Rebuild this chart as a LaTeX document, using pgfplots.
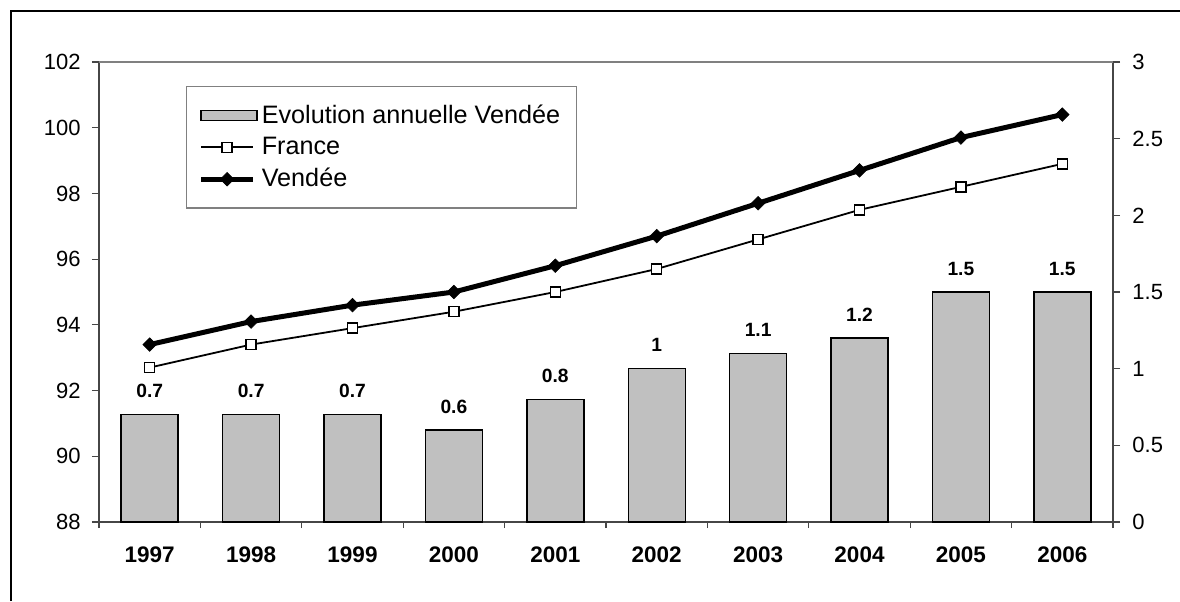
\documentclass[border=0pt]{standalone}
\usepackage{pgfplots}
\pgfplotsset{compat=1.18}
\usepackage{fontspec}
\setmainfont{Liberation Sans}
\definecolor{barfill}{RGB}{192,192,192}
\definecolor{axgray}{RGB}{70,70,70}

\pgfplotstableread{
x bar
0 0.7
1 0.7
2 0.7
3 0.6
4 0.8
5 1.0
6 1.1
7 1.2
8 1.5
9 1.5
}\bars

\pgfplotstableread{
x france vendee
0 92.7 93.4
1 93.4 94.1
2 93.9 94.6
3 94.4 95.0
4 95.0 95.8
5 95.7 96.7
6 96.6 97.7
7 97.5 98.7
8 98.2 99.7
9 98.9 100.4
}\lines

\pgfplotsset{
  base/.style={
    width=507pt, height=230pt, scale only axis,
    xmin=-0.5, xmax=9.5,
    at={(0pt,0pt)}, anchor=south west,
    tick align=outside,
    major tick length=3.5pt,
    minor tick length=3pt,
    tick style={axgray, line width=0.6pt},
    axis line style={axgray, line width=0.7pt},
    /pgf/number format/assume math mode=true,
    ticklabel style={font=\fontsize{11}{13}\selectfont},
  },
  linelegend/.style={legend image code/.code={\draw[mark repeat=2,mark phase=2,##1] plot coordinates {(0pt,0pt) (13pt,0pt) (26pt,0pt)};}},
  barlegend/.style={legend image code/.code={\draw[##1] (0pt,-2.5pt) rectangle (28pt,2.5pt);}},
}

\begin{document}
\begin{tikzpicture}[x=1pt,y=1pt]
\useasboundingbox (-49.5,-39.5) rectangle (540.5,261);
\draw[line width=0.65pt] (-44,-39.5) -- (-44,255.5) -- (540.5,255.5);

% bars, right axis
\begin{axis}[base,
  axis x line*=bottom, axis y line*=right,
  ymin=0, ymax=3, ytick={0,0.5,1,1.5,2,2.5,3},
  xtick={0,...,9},
  xticklabels={1997,1998,1999,2000,2001,2002,2003,2004,2005,2006},
  major x tick style={draw=none},
  minor xtick={-0.5,0.5,...,9.5},
  xticklabel style={font=\bfseries\fontsize{11.25}{13}\selectfont, inner sep=0pt, yshift=-8.5pt},
  yticklabel style={inner sep=0pt, xshift=6pt},
  ybar, bar width=28.5pt,
  nodes near coords,
  nodes near coords style={font=\bfseries\fontsize{9.6}{11}\selectfont, anchor=south, inner sep=0pt, yshift=8pt, text=black},
]
\addplot[fill=barfill, draw=black, line width=0.7pt] table[x=x,y=bar] {\bars};
\end{axis}

% lines, left axis
\begin{axis}[base,
  axis y line*=left, axis x line=none,
  ymin=88, ymax=102, ytick={88,90,...,102},
  yticklabel style={inner sep=0pt, xshift=-5.5pt},
  legend style={at={(0.0858,0.948)}, anchor=north west, draw=gray, line width=0.6pt,
    font=\fontsize{12.6}{15}\selectfont, inner xsep=6pt, inner ysep=7pt, row sep=1.5pt,
    cells={anchor=west}},
  legend cell align=left,
]
\addlegendimage{barlegend, fill=barfill, draw=black, line width=0.7pt}
\addlegendentry{Evolution annuelle Vendée}
\addplot[linelegend, black, line width=0.9pt, mark=square*, mark size=2.5pt,
  mark options={fill=white, line width=0.7pt}]
  table[x=x,y=france] {\lines};
\addlegendentry{France}
\addplot[linelegend, black, line width=2.5pt, mark=square*, mark size=2.4pt,
  mark options={rotate=45, line width=0.3pt}]
  table[x=x,y=vendee] {\lines};
\addlegendentry{Vendée}
\end{axis}
\draw[gray, line width=1pt] (0,230) -- (507,230);
\end{tikzpicture}
\end{document}
